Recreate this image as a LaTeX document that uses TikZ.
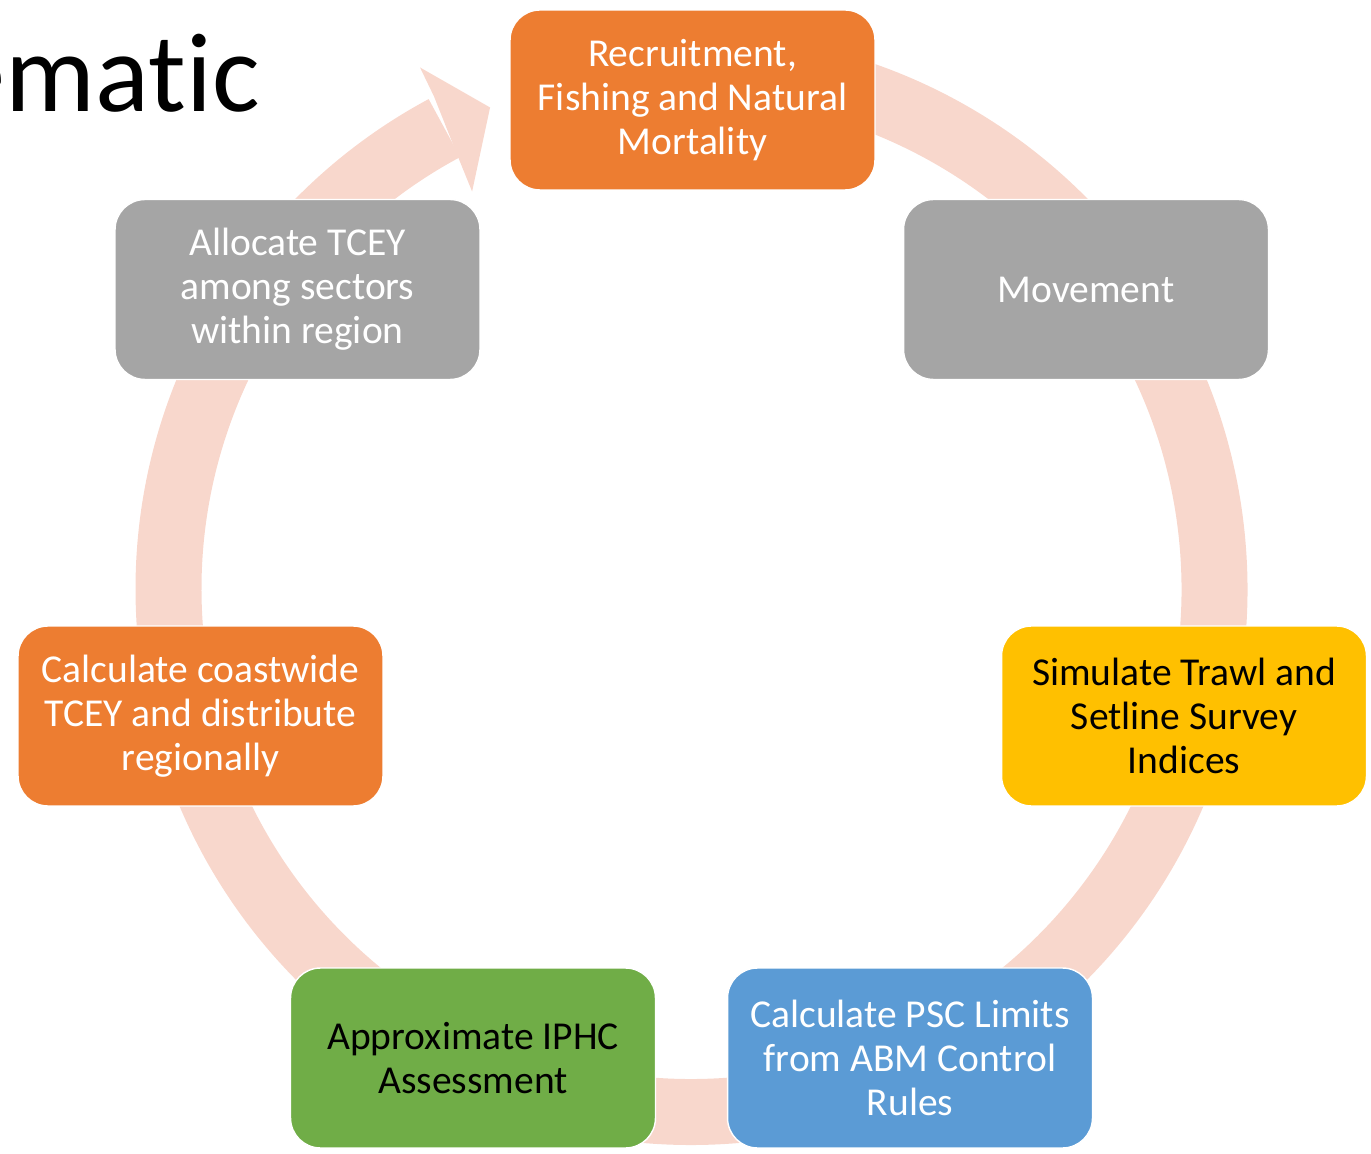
\documentclass[tikz,border=0pt]{standalone}
\usepackage{fontspec}
\setmainfont{Carlito}
\newfontfamily\titlefont{Carlito}[Ligatures=NoCommon]
\usetikzlibrary{positioning}

\definecolor{ringpink}{RGB}{248,215,204}
\definecolor{boxorange}{RGB}{237,125,49}
\definecolor{boxgray}{RGB}{165,165,165}
\definecolor{boxyellow}{RGB}{255,192,0}
\definecolor{boxblue}{RGB}{91,155,213}
\definecolor{boxgreen}{RGB}{112,173,71}

\tikzset{
	stepbox/.style={rounded corners=0.6cm, draw=white, line width=0.8pt,
		minimum width=7.3cm, minimum height=3.6cm, align=center,
		font=\fontsize{22.5}{25}\selectfont},
	ringline/.style={draw=ringpink, line width=1.32cm},
}

\begin{document}
\begin{tikzpicture}[x=0.02cm, y=0.02cm]

	    \useasboundingbox (0,0) rectangle (1371,1153);
	    \clip (0,0) rectangle (1371,1153);

	    \node[anchor=base east, inner sep=0pt, font=\titlefont\fontsize{64}{76}\selectfont] (title) at (260,1041) {Schematic};

	    \coordinate (c) at (691.5,564);

		% cycle ring and arrow head
		\draw[ringline] (c) ++(95:523) arc[start angle=95, end angle=-241.8, radius=523];
		\fill[ringpink, shift={(c)}] (117.6:556) -- (117.5:588) -- (112.7:522) -- (118.9:454) -- (118.4:490) -- cycle;

		%%%%%%%%%%%%%%%%%%%%%%%%%%%%%%%%%%%%%%%%%%%%%%%%%%%%%%%%%%%%%%%%%%%%%

	    \node[stepbox, fill=boxorange, text=white] (recruit) at (692.5,1053) {Recruitment,\\Fishing and Natural\\Mortality};
	    \node[stepbox, fill=boxgray, text=white] (move) at (1086,863.5) {Movement};
	    \node[stepbox, fill=boxyellow, text=black] (survey) at (1184,437) {Simulate Trawl and\\Setline Survey\\Indices};
	    \node[stepbox, fill=boxblue, text=white] (psc) at (910,95) {Calculate PSC Limits\\from ABM Control\\Rules};
	    \node[stepbox, fill=boxgreen, text=black] (assess) at (473,95) {Approximate IPHC\\Assessment};
	    \node[stepbox, fill=boxorange, text=white] (coastwide) at (200.5,437) {Calculate coastwide\\TCEY and distribute\\regionally};
	    \node[stepbox, fill=boxgray, text=white] (allocate) at (297.5,863.5) {Allocate TCEY\\among sectors\\within region};

    \end{tikzpicture}
\end{document}
